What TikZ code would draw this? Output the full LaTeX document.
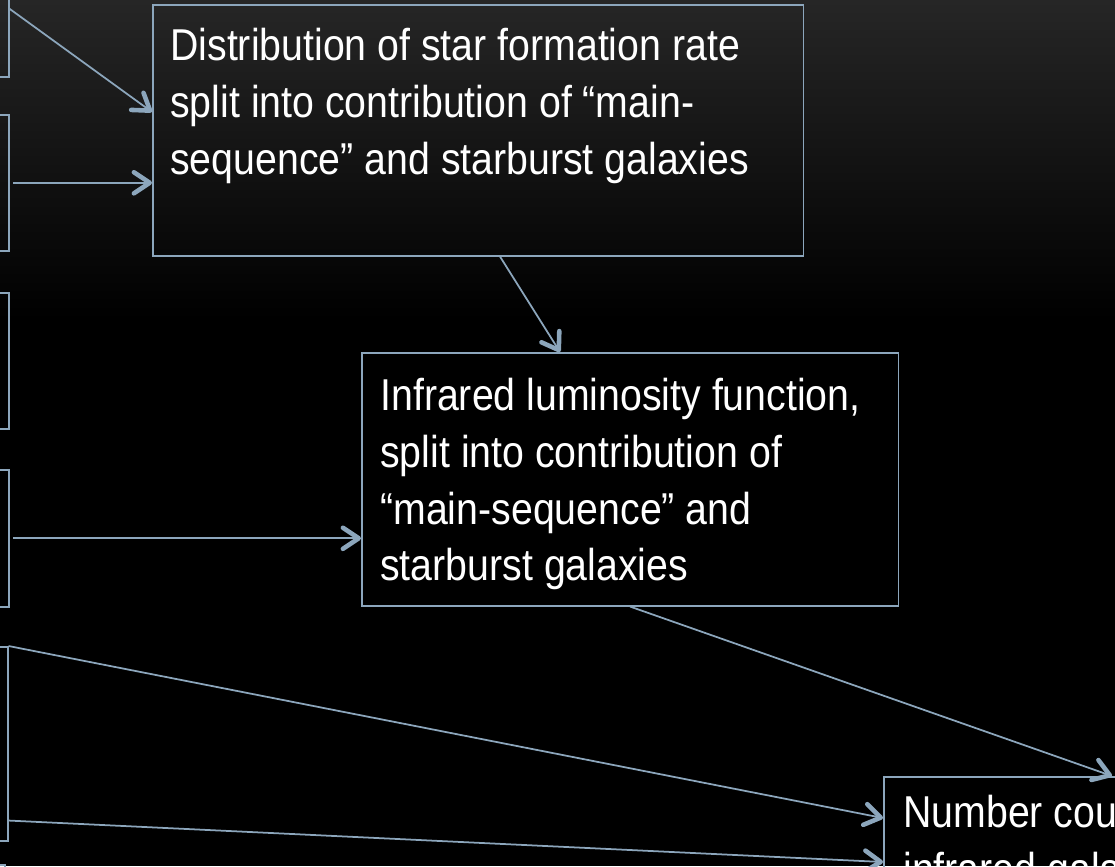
\documentclass[tikz,border=0pt]{standalone}
\usepackage{fontspec}
\usepackage{xcolor}
\usepackage{tikz}
\usetikzlibrary{calc, arrows.meta}
\newfontfamily\slideFont{Liberation Sans}[FakeStretch=0.88]
\definecolor{slideTop}{HTML}{262626}
\definecolor{frameBlue}{HTML}{8CA6BC}
\definecolor{textColor}{HTML}{FFFFFF}

\begin{document}
\begin{tikzpicture}[
        x=0.02cm, y=-0.02cm,
        frameBox/.style={draw=frameBlue, line width=0.9pt, anchor=north west, inner sep=0pt},
        boxText/.style={text=textColor, anchor=north west, inner sep=0pt, align=left, font=\slideFont\fontsize{25.4pt}{32.3pt}\selectfont},
        flowArrow/.style={draw=frameBlue, line width=1pt, -{Straight Barb[length=9pt, width=12pt, line width=2.6pt, round]}}
    ]
        \useasboundingbox (0,0) rectangle (1115,866);
        \clip (0,0) rectangle (1115,866);

        % Slide background
        \fill[black] (0,0) rectangle (1115,866);
        \shade[top color=slideTop, bottom color=black] (0,0) rectangle (1115,320);

        % Input boxes, cut off at the left edge
        \node[frameBox, minimum width=6.16cm, minimum height=2.72cm] (src1) at (-300,-60) {};
        \node[frameBox, minimum width=6.16cm, minimum height=2.72cm] (src2) at (-300,114) {};
        \node[frameBox, minimum width=6.16cm, minimum height=2.72cm] (src3) at (-300,292) {};
        \node[frameBox, minimum width=6.16cm, minimum height=2.74cm] (src4) at (-300,469) {};
        \node[frameBox, minimum width=6.16cm, minimum height=3.88cm] (src5) at (-301,646) {};
        \node[frameBox, minimum width=6.08cm, minimum height=2.72cm] (src6) at (-300,864) {};

        % Result boxes
        \node[frameBox, minimum width=13.02cm, minimum height=5.02cm] (sfr) at (152,4) {};
        \node[boxText] (sfrText) at ($(sfr.north west)+(18,24)$) {Distribution of star formation rate\\split into contribution of “main-\\sequence” and starburst galaxies};

        \node[frameBox, minimum width=10.74cm, minimum height=5.06cm] (lumFn) at (361,352) {};
        \node[boxText] (lumFnText) at ($(lumFn.north west)+(19,26)$) {Infrared luminosity function,\\split into contribution of\\“main-sequence” and\\starburst galaxies};

        \node[frameBox, minimum width=8cm, minimum height=4cm] (counts) at (883,776) {};
        \node[boxText] (countsText) at ($(counts.north west)+(20,19)$) {Number counts of\\infrared galaxies};

        % Connectors
        \draw[flowArrow] (src1.east) -- ($(sfr.north west)+(0,108)$);
        \draw[flowArrow, shorten <=2pt] (src2.east) -- (sfr.west |- src2.east);
        \draw[flowArrow, shorten <=2pt] (src4.east) -- (lumFn.west |- src4.east);
        \draw[flowArrow] (src5.north east) -- ($(counts.north west)+(0,42)$);
        \draw[flowArrow] ($(src5.south east)+(0,-21)$) -- ($(counts.north west)+(0,86)$);
        \draw[flowArrow] ($(sfr.south west)+(348,0)$) -- ($(lumFn.north west)+(199,0)$);
        \draw[flowArrow] ($(lumFn.south west)+(269,0)$) -- ($(counts.north west)+(229,0)$);
    \end{tikzpicture}
\end{document}
